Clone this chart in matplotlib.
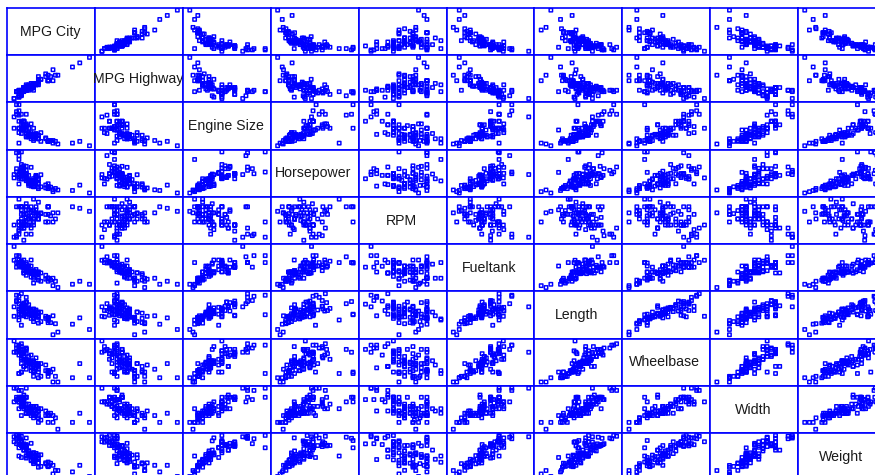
import matplotlib
matplotlib.use("Agg")
import matplotlib.pyplot as plt

plt.rcParams["font.family"] = ["Liberation Sans", "DejaVu Sans"]

names = ["MPG City", "MPG Highway", "Engine Size", "Horsepower", "RPM",
         "Fueltank", "Length", "Wheelbase", "Width", "Weight"]

mpg_city = [25, 18, 20, 19, 22, 22, 19, 16, 19, 16, 16, 25, 25, 19, 21, 18, 15, 17, 17, 20, 23, 20, 29,
            23, 22, 17, 21, 18, 29, 20, 31, 23, 22, 22, 24, 15, 20, 20, 46, 30, 24, 42, 24, 29, 22, 26,
            20, 17, 18, 18, 17, 18, 29, 28, 26, 18, 17, 20, 19, 23, 19, 29, 18, 29, 24, 17, 21, 24, 23,
            18, 19, 23, 31, 23, 19, 19, 19, 20, 28, 33, 25, 23, 39, 32, 25, 22, 18, 25, 17, 21, 18, 21, 20]
mpg_highway = [31, 25, 26, 26, 30, 31, 28, 25, 27, 25, 25, 36, 34, 28, 29, 23, 20, 26, 25, 28, 28, 26, 33,
               29, 27, 21, 27, 24, 33, 28, 33, 30, 27, 29, 30, 20, 30, 26, 50, 36, 31, 46, 31, 33, 29, 34,
               27, 22, 24, 23, 26, 26, 37, 36, 34, 24, 25, 29, 25, 26, 26, 33, 24, 33, 30, 23, 26, 31, 31,
               23, 28, 30, 41, 31, 28, 27, 28, 26, 38, 37, 30, 30, 43, 37, 32, 29, 22, 33, 21, 30, 25, 28, 28]
engine_size = [1.8, 3.2, 2.8, 2.8, 3.5, 2.2, 3.8, 5.7, 3.8, 4.9, 4.6, 2.2, 2.2, 3.4, 2.2, 3.8, 4.3, 5.0, 5.7,
               3.3, 3.0, 3.3, 1.5, 2.2, 2.5, 3.0, 2.5, 3.0, 1.5, 3.5, 1.3, 1.8, 2.3, 2.3, 2.0, 3.0, 3.0, 4.6,
               1.0, 1.6, 2.3, 1.5, 2.2, 1.5, 1.8, 1.5, 2.0, 4.5, 3.0, 3.0, 3.8, 4.6, 1.6, 1.8, 2.5, 3.0, 1.3,
               2.3, 3.2, 1.6, 3.8, 1.5, 3.0, 1.6, 2.4, 3.0, 3.0, 2.3, 2.2, 3.8, 3.8, 1.8, 1.6, 2.0, 3.4, 3.4,
               3.8, 2.1, 1.9, 1.2, 1.8, 2.2, 1.3, 1.5, 2.2, 2.2, 2.4, 1.8, 2.5, 2.0, 2.8, 2.3, 2.4]
horsepower = [140, 200, 172, 172, 208, 110, 170, 180, 170, 200, 295, 110, 110, 160, 110, 170, 165, 170, 300,
              153, 141, 147, 92, 93, 100, 142, 100, 300, 92, 214, 63, 127, 96, 105, 115, 145, 140, 190, 55,
              90, 160, 102, 140, 81, 124, 92, 128, 278, 185, 225, 160, 210, 82, 103, 164, 155, 255, 130, 217,
              100, 140, 92, 202, 110, 150, 151, 160, 155, 110, 170, 170, 92, 74, 110, 160, 200, 170, 140, 85,
              73, 90, 130, 70, 82, 135, 130, 138, 81, 109, 134, 178, 114, 168]
rpm = [6300, 5500, 5500, 5500, 5700, 5200, 4800, 4000, 4800, 4100, 6000, 5200, 5200, 4600, 5200, 4800, 4000,
       4200, 5000, 5300, 5000, 4800, 6000, 4800, 4800, 5000, 4800, 6000, 6000, 5800, 5000, 6500, 4200, 4600,
       5500, 4800, 4800, 4200, 5700, 5400, 5800, 5900, 5600, 5500, 6000, 5550, 6000, 6000, 5200, 6000, 4400,
       4600, 5000, 5500, 5600, 5000, 6500, 5100, 5500, 5750, 3800, 6000, 6000, 6000, 5600, 4800, 5200, 6000,
       5200, 4800, 4800, 5000, 5600, 5200, 4600, 5000, 4800, 6000, 5000, 5600, 5200, 5600, 6000, 5200, 5400,
       5400, 5000, 5500, 4500, 5800, 5800, 5400, 6200]
fueltank = [13.2, 18.0, 16.9, 21.1, 21.1, 16.4, 18.0, 23.0, 18.8, 18.0, 20.0, 15.2, 15.6, 15.5, 16.5, 20.0,
            27.0, 23.0, 20.0, 18.0, 16.0, 16.0, 13.2, 14.0, 16.0, 20.0, 16.0, 19.8, 13.2, 18.0, 10.0, 13.2,
            15.9, 15.4, 15.5, 21.0, 16.0, 20.0, 10.6, 12.4, 15.9, 11.9, 17.0, 11.9, 13.7, 11.9, 17.2, 22.5,
            18.5, 20.6, 18.4, 20.0, 13.2, 14.5, 15.5, 19.6, 20.0, 14.5, 18.5, 11.1, 18.0, 13.2, 19.0, 13.2,
            15.9, 20.0, 18.5, 15.2, 16.5, 20.0, 18.0, 15.9, 13.2, 15.2, 15.5, 16.5, 18.0, 18.0, 12.8, 9.2,
            15.9, 15.9, 10.6, 11.9, 15.9, 18.5, 19.8, 12.4, 21.1, 18.5, 18.5, 15.8, 19.3]
length = [177, 195, 180, 193, 186, 189, 200, 216, 198, 206, 204, 182, 184, 193, 198, 178, 194, 214, 179, 203,
          183, 203, 174, 172, 181, 175, 192, 180, 174, 202, 141, 171, 177, 180, 179, 176, 192, 212, 151, 164,
          175, 173, 185, 168, 172, 166, 184, 200, 188, 191, 205, 219, 164, 172, 184, 190, 169, 175, 187, 166,
          199, 172, 190, 170, 181, 190, 188, 188, 190, 194, 201, 173, 177, 181, 196, 195, 177, 184, 176, 146,
          175, 179, 161, 162, 174, 188, 187, 163, 187, 180, 159, 190, 184]
wheelbase = [102, 115, 102, 106, 109, 105, 111, 116, 108, 114, 111, 101, 103, 101, 108, 110, 111, 116, 96, 113,
             104, 110, 98, 97, 104, 112, 105, 97, 98, 113, 90, 98, 100, 101, 103, 119, 106, 114, 93, 97, 100,
             103, 107, 94, 98, 94, 104, 113, 103, 106, 109, 117, 97, 98, 103, 110, 96, 105, 110, 94, 113, 98,
             107, 96, 103, 112, 104, 103, 105, 110, 111, 97, 99, 101, 101, 108, 111, 99, 102, 90, 97, 102, 93,
             94, 99, 103, 113, 93, 115, 103, 97, 104, 105]
width = [68, 71, 67, 70, 69, 69, 74, 78, 73, 73, 74, 66, 68, 74, 71, 74, 78, 77, 74, 74, 68, 69, 66, 67, 68, 72,
         69, 72, 66, 74, 63, 67, 68, 68, 70, 72, 71, 78, 63, 67, 70, 67, 67, 63, 66, 64, 69, 72, 70, 71, 73, 77,
         66, 66, 69, 72, 69, 67, 69, 65, 73, 67, 70, 66, 67, 74, 69, 67, 70, 74, 74, 67, 66, 66, 75, 72, 74, 67,
         68, 60, 65, 67, 63, 65, 69, 70, 71, 63, 72, 67, 66, 67, 69]
weight = [2705, 3560, 3375, 3405, 3640, 2880, 3470, 4105, 3495, 3620, 3935, 2490, 2785, 3240, 3195, 3715, 4025,
          3910, 3380, 3515, 3085, 3570, 2270, 2670, 2970, 3705, 3080, 3805, 2295, 3490, 1845, 2530, 2690, 2850,
          2710, 3735, 3325, 3950, 1695, 2475, 2865, 2350, 3040, 2345, 2620, 2285, 2885, 4000, 3510, 3515, 3570,
          4055, 2325, 2440, 2970, 3735, 2895, 2920, 3525, 2450, 3610, 2295, 3730, 2545, 3050, 4100, 3200, 2910,
          2890, 3715, 3470, 2640, 2350, 2575, 3240, 3450, 3495, 2775, 2495, 2045, 2490, 3085, 1965, 2055, 2950,
          3030, 3785, 2240, 3960, 2985, 2810, 2985, 3245]

columns = [mpg_city, mpg_highway, engine_size, horsepower, rpm,
           fueltank, length, wheelbase, width, weight]

fig = plt.figure(figsize=(8.75, 4.75), dpi=100)

# panel grid in pixels, the last row and column run off the canvas
left, top = 7.3, 7.9
pw, ph = 87.85, 47.25
blue = "#0000ff"


# pad the range unevenly, the reference sits a bit up and to the right
def padded(values, low, high):
    span = max(values) - min(values)
    return min(values) - low * span, max(values) + high * span


for i in range(10):
    for j in range(10):
        ax = fig.add_axes([(left + j * pw) / 875, 1 - (top + (i + 1) * ph) / 475, pw / 875, ph / 475])
        ax.set_xticks([])
        ax.set_yticks([])
        for s in ax.spines.values():
            s.set_color(blue)
            s.set_linewidth(1.2)
        if i == j:
            ax.set_xlim(0, 1)
            ax.set_ylim(0, 1)
            ax.text(0.485, 0.5, names[i], ha="center", va="center", fontsize=10.2, color="#1a1a1a", clip_on=False)
        else:
            pts = ax.scatter(columns[j], columns[i], marker="s", s=6, facecolors="none",
                             edgecolors=blue, linewidths=1.05)
            pts.set_snap(False)
            ax.set_xlim(*padded(columns[j], 0.09, 0.075))
            ax.set_ylim(*padded(columns[i], 0.095, 0.055))

fig.savefig("out.png", dpi=100)
